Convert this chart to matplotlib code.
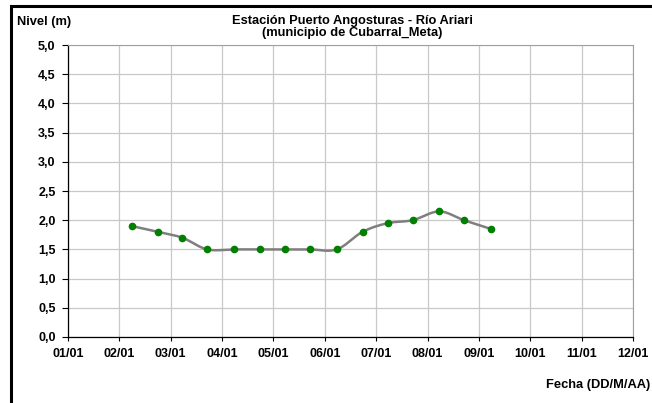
import numpy as np
import matplotlib
matplotlib.use('Agg')
import matplotlib.pyplot as plt
from matplotlib.patches import Rectangle

plt.rcParams['font.family'] = ['Liberation Sans', 'DejaVu Sans']
plt.rcParams['font.weight'] = 'bold'

# fechas de medicion (mes, dia) y nivel (m)
fechas = [(2, 8), (2, 23), (3, 8), (3, 23), (4, 8), (4, 23), (5, 8), (5, 23),
          (6, 8), (6, 23), (7, 8), (7, 23), (8, 8), (8, 23), (9, 8)]
nivel = [1.9, 1.8, 1.7, 1.5, 1.5, 1.5, 1.5, 1.5, 1.5, 1.8, 1.95, 2.0, 2.15, 2.0, 1.85]
meses = ['01/01', '02/01', '03/01', '04/01', '05/01', '06/01',
         '07/01', '08/01', '09/01', '10/01', '11/01', '12/01']
dias_mes = [31, 29, 31, 30, 31, 30, 31, 31, 30, 31, 30, 31]


def mes_frac(m, d):
    return (m - 1) + (d - 1) / dias_mes[m - 1]


x = np.array([mes_frac(m, d) for m, d in fechas])
y = np.array(nivel)


def suavizar(x, y, n=20):
    # catmull-rom, parecido a la linea suavizada de Excel
    px = np.concatenate([[2 * x[0] - x[1]], x, [2 * x[-1] - x[-2]]])
    py = np.concatenate([[2 * y[0] - y[1]], y, [2 * y[-1] - y[-2]]])
    xs, ys = [], []
    t = np.linspace(0, 1, n)
    for i in range(1, len(px) - 2):
        for p, out in ((px, xs), (py, ys)):
            p0, p1, p2, p3 = p[i - 1], p[i], p[i + 1], p[i + 2]
            out.extend(0.5 * ((2 * p1) + (-p0 + p2) * t +
                              (2 * p0 - 5 * p1 + 4 * p2 - p3) * t ** 2 +
                              (-p0 + 3 * p1 - 3 * p2 + p3) * t ** 3))
    return np.array(xs), np.array(ys)


fig = plt.figure(figsize=(6.52, 4.03), dpi=100)
ax = fig.add_axes([0.1043, 0.1638, 0.8666, 0.7245])

xs, ys = suavizar(x, y)
ax.plot(xs, ys, color='#7f7f7f', lw=1.8, zorder=3)
ax.plot(x, y, 'o', color='#008000', ms=4.5, zorder=4)

ax.set_xlim(0, 11)
ax.set_ylim(0, 5)
ax.set_xticks(range(12))
ax.set_xticklabels(meses)
yt = np.arange(0, 5.01, 0.5)
ax.set_yticks(yt)
ax.set_yticklabels([f'{v:.1f}'.replace('.', ',') for v in yt])
ax.tick_params(labelsize=9, width=0.8)
ax.tick_params(axis='x', length=3, pad=5)
ax.tick_params(axis='y', length=4, pad=5)
ax.grid(True, color='#c8c8c8', lw=0.9)
ax.set_axisbelow(True)
for s in ['top', 'right']:
    ax.spines[s].set_color('#a0a0a0')
for s in ['left', 'bottom']:
    ax.spines[s].set_color('black')
    ax.spines[s].set_linewidth(0.9)

fig.text(0.540, 0.933, 'Estación Puerto Angosturas - Río Ariari\n(municipio de Cubarral_Meta)',
         ha='center', va='center', fontsize=9.3, fontweight='bold', linespacing=1.0)
fig.text(0.026, 0.945, 'Nivel (m)', ha='left', va='center', fontsize=9.3, fontweight='bold')
fig.text(0.998, 0.045, 'Fecha (DD/M/AA)', ha='right', va='center', fontsize=9.3, fontweight='bold')

# marco del grafico
fig.patches.append(Rectangle((0.0165, -0.05), 1.1, 1.036, transform=fig.transFigure,
                             fill=False, ec='black', lw=2.2))

fig.savefig('out.png', dpi=100)
